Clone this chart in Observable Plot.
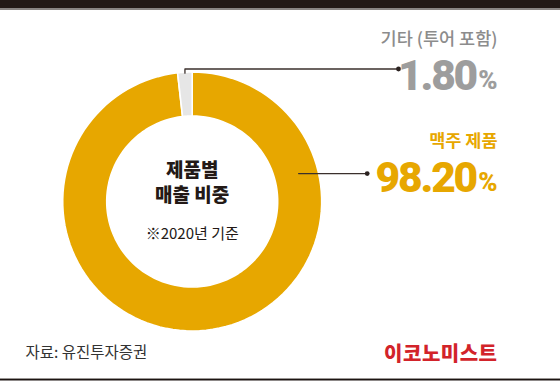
<!DOCTYPE html>
<html><head><meta charset="utf-8">
<script src="https://cdn.jsdelivr.net/npm/d3@7"></script>
<script src="https://cdn.jsdelivr.net/npm/@observablehq/plot@0.6"></script>
<style>
html,body{margin:0;padding:0;background:#fff;}
#chart svg{display:block;font-family:"Noto Sans CJK KR",sans-serif;}
</style>
</head><body><div id="chart"></div>
<script>
// ---- data ----
const categories = ["맥주 제품", "기타 (투어 포함)"];
const shares = [98.2, 1.8];
const shareLabels = ["98.20", "1.80"];
const centerTitle = ["제품별", "매출 비중"];
const centerNote = "※2020년 기준";
const source = "자료: 유진투자증권";
const brand = "이코노미스트";

// ---- layout ----
const W = 560, H = 388;
const cx = 191.7, cy = 201, rOuter = 129.5, rInner = 85.5;
const sliceColors = ["#e7a700", "#e6e6e6"];
const labelColors = ["#e7a700", "#9d9d9d"];

const pie = d3.pie().sort(null)(shares);
const ringPts = [];
pie.forEach((p, i) => {
  const n = 120;
  for (let k = 0; k <= n; k++) {
    const a = p.startAngle + (p.endAngle - p.startAngle) * k / n;
    ringPts.push({key: categories[i], i, x: cx + rOuter * Math.sin(a), y: cy - rOuter * Math.cos(a)});
  }
  for (let k = n; k >= 0; k--) {
    const a = p.startAngle + (p.endAngle - p.startAngle) * k / n;
    ringPts.push({key: categories[i], i, x: cx + rInner * Math.sin(a), y: cy - rInner * Math.cos(a)});
  }
});

// leader lines
const gMid = (pie[1].startAngle + pie[1].endAngle) / 2;
const g0 = {x: cx + (rOuter - 1) * Math.sin(gMid), y: cy - (rOuter - 1) * Math.cos(gMid)};
const lineY1 = 68.5, dotX1 = 398;
const leader1 = [g0, {x: g0.x, y: lineY1}, {x: dotX1, y: lineY1}];
const bAng = 75.3 * Math.PI / 180, bR = 110;
const b0 = {x: cx + bR * Math.sin(bAng), y: cy - bR * Math.cos(bAng)};
const dotX2 = 366.7;
const leader2 = [b0, {x: dotX2, y: b0.y}];

const rightX = 497, pctW = 21.5;
const font = "Noto Sans CJK KR";
const numFont = "Roboto";

const chart = Plot.plot({
  width: W, height: H, margin: 0,
  x: {type: "identity", axis: null},
  y: {type: "identity", axis: null},
  style: {background: "#fff"},
  marks: [
    // top bar and bottom rule
    Plot.rect([0], {x1: 0, x2: W, y1: 0, y2: 8, fill: "#231916"}),
    Plot.rect([0], {x1: 0, x2: W, y1: 8, y2: 10, fill: "#8a8583"}),
    Plot.rect([0], {x1: 0, x2: W, y1: 378, y2: 379, fill: "#9a9694"}),
    Plot.rect([0], {x1: 0, x2: W, y1: 379, y2: 380.5, fill: "#1c1412"}),
    // donut
    Plot.line(ringPts, {x: "x", y: "y", z: "key", curve: "linear-closed",
      fill: d => sliceColors[d.i], stroke: "#fff", strokeWidth: 1.6}),
    // leaders
    Plot.line(leader1, {x: "x", y: "y", stroke: "#3b302c", strokeWidth: 1.3}),
    Plot.line(leader2, {x: "x", y: "y", stroke: "#3b302c", strokeWidth: 1.3}),
    Plot.dot([leader1[2], leader2[1]], {x: "x", y: "y", r: 2.4, fill: "#2b2220", stroke: null}),
    // center texts
    Plot.text(centerTitle, {x: () => cx, y: (d, i) => 170 + i * 25, text: d => d,
      fontFamily: font, fontSize: 19, fontWeight: 900, fill: "#231916"}),
    Plot.text([centerNote], {x: () => cx, y: () => 234, text: d => d,
      fontFamily: font, fontSize: 15, fontWeight: 400, fill: "#231916"}),
    // category labels
    Plot.text([categories[1]], {x: () => rightX, y: () => 39, text: d => d, textAnchor: "end",
      fontFamily: font, fontSize: 17.5, fontWeight: 500, fill: "#8c8c8c"}),
    Plot.text([categories[0]], {x: () => rightX, y: () => 141, text: d => d, textAnchor: "end",
      fontFamily: font, fontSize: 17.5, fontWeight: 700, fill: labelColors[0]}),
    // big values
    Plot.text([shareLabels[1]], {x: () => rightX - pctW, y: () => 76, text: d => d, textAnchor: "end",
      fontFamily: numFont, fontSize: 42.5, fontWeight: 900, fill: labelColors[1]}),
    Plot.text([shareLabels[0]], {x: () => rightX - pctW, y: () => 178, text: d => d, textAnchor: "end",
      fontFamily: numFont, fontSize: 42.5, fontWeight: 900, fill: labelColors[0]}),
    Plot.text(["%"], {x: () => rightX, y: () => 80.5, text: d => d, textAnchor: "end",
      fontFamily: numFont, fontSize: 26, fontWeight: 900, fill: labelColors[1]}),
    Plot.text(["%"], {x: () => rightX, y: () => 182.5, text: d => d, textAnchor: "end",
      fontFamily: numFont, fontSize: 26, fontWeight: 900, fill: labelColors[0]}),
    // footer
    Plot.text([source], {x: () => 25, y: () => 352.5, text: d => d, textAnchor: "start",
      fontFamily: font, fontSize: 15.5, fontWeight: 400, fill: "#333"}),
    Plot.text([brand], {x: () => rightX, y: () => 354, text: d => d, textAnchor: "end",
      fontFamily: font, fontSize: 20, fontWeight: 900, fill: "#d2232a"})
  ]
});
d3.select(chart).selectAll("text").each(function() {
  const t = this.textContent;
  if (shareLabels.includes(t)) this.style.letterSpacing = "-2.2px";
  if (t === "%") this.style.letterSpacing = "0px";
  if (t === brand) this.style.letterSpacing = "0.5px";
});
document.getElementById("chart").appendChild(chart);
</script></body></html>
